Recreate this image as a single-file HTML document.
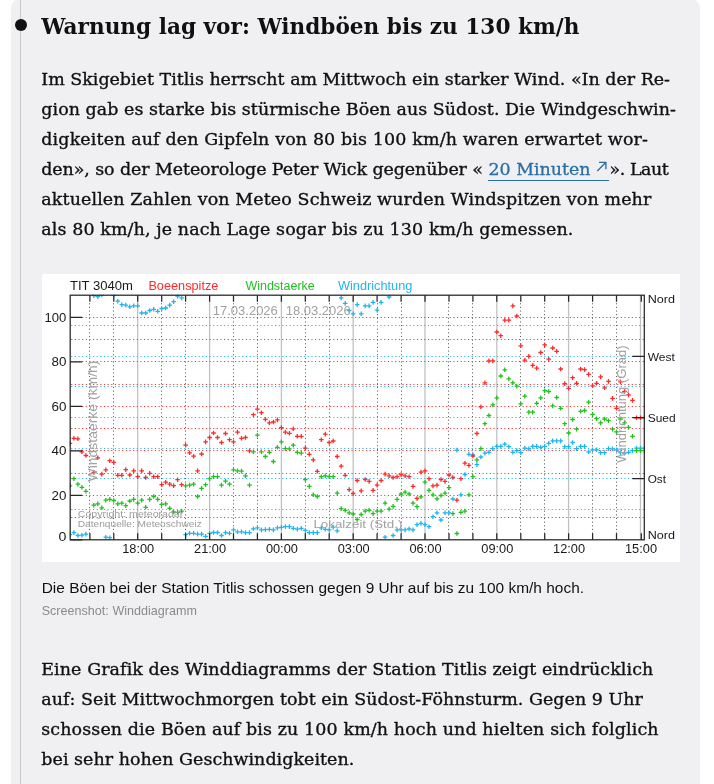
<!DOCTYPE html>
<html lang="de"><head><meta charset="utf-8"><title>Warnung lag vor: Windböen bis zu 130 km/h</title>
<style>
html,body{margin:0;padding:0;background:#fff}
body{width:714px;height:784px;position:relative;overflow:hidden;font-family:"DejaVu Serif","Liberation Serif",serif;color:#101010}
.card{position:absolute;left:11px;top:-1px;width:689px;height:800px;background:#f0f0f2;border-radius:9px 9px 0 0}
.vline{position:absolute;left:20px;top:0;width:1px;height:800px;background:#c9c9cc}
.dot{position:absolute;left:15px;top:19px;width:12px;height:12px;border-radius:50%;background:#111}
.ln{position:absolute;white-space:nowrap;margin:0;padding:0}
.h{font-size:21.6px;font-weight:bold;line-height:30px}
.p{font-size:17.45px;line-height:30px;height:30px;-webkit-text-stroke:0.35px #101010}
.cap{font-family:"Liberation Sans",sans-serif;font-size:15.45px;line-height:20px}
.cred{font-family:"Liberation Sans",sans-serif;font-size:12.55px;line-height:16px;color:#8a8a8e}
a.lk{color:#2a6ea6;-webkit-text-stroke:0.3px #2a6ea6;text-decoration:none}
.ul{position:absolute;left:488px;top:179.8px;width:120.6px;height:1.2px;background:#2a6ea6}
.ar{position:absolute;left:596.2px;top:161.4px}
</style></head><body>
<div class="card"></div><div class="vline"></div><div class="dot"></div>
<h2 class="ln h" id="h" style="left:41.2px;top:12px;letter-spacing:0.008px">Warnung lag vor: Windböen bis zu 130 km/h</h2>
<p class="ln p" id="l1" style="left:41.3px;top:63.5px;letter-spacing:0.004px">Im Skigebiet Titlis herrscht am Mittwoch ein starker Wind. «In der Re-</p>
<p class="ln p" id="l2" style="left:41.3px;top:93.5px;letter-spacing:0.049px">gion gab es starke bis stürmische Böen aus Südost. Die Windgeschwin-</p>
<p class="ln p" id="l3" style="left:41.3px;top:123.5px;letter-spacing:0.144px">digkeiten auf den Gipfeln von 80 bis 100 km/h waren erwartet wor-</p>
<p class="ln p" id="l4a" style="left:41.3px;top:153.5px;letter-spacing:-0.088px">den», so der Meteorologe Peter Wick gegenüber «</p>
<a class="ln p lk" id="l4b" style="left:488.4px;top:153.5px;letter-spacing:0.001px">20 Minuten</a>
<p class="ln p" id="l4c" style="left:609.6px;top:153.5px;letter-spacing:-0.461px">». Laut</p>
<p class="ln p" id="l5" style="left:41.3px;top:183.5px;letter-spacing:0.128px">aktuellen Zahlen von Meteo Schweiz wurden Windspitzen von mehr</p>
<p class="ln p" id="l6" style="left:41.3px;top:213.5px;letter-spacing:0.111px">als 80 km/h, je nach Lage sogar bis zu 130 km/h gemessen.</p>
<p class="ln cap" id="c1" style="left:41.7px;top:577.5px;letter-spacing:0.011px">Die Böen bei der Station Titlis schossen gegen 9 Uhr auf bis zu 100 km/h hoch.</p>
<p class="ln cred" id="c2" style="left:41.7px;top:602.5px;letter-spacing:0.021px">Screenshot: Winddiagramm</p>
<p class="ln p" id="m1" style="left:41.3px;top:653.9px;letter-spacing:0.092px">Eine Grafik des Winddiagramms der Station Titlis zeigt eindrücklich</p>
<p class="ln p" id="m2" style="left:41.3px;top:683.9px;letter-spacing:0.048px">auf: Seit Mittwochmorgen tobt ein Südost-Föhnsturm. Gegen 9 Uhr</p>
<p class="ln p" id="m3" style="left:41.3px;top:713.9px;letter-spacing:0.123px">schossen die Böen auf bis zu 100 km/h hoch und hielten sich folglich</p>
<p class="ln p" id="m4" style="left:41.3px;top:743.9px;letter-spacing:0.049px">bei sehr hohen Geschwindigkeiten.</p>
<div class="ul"></div>
<svg class="ar" width="11" height="11" viewBox="0 0 11 11"><path d="M3 1.3h6.9v6.9M9.7 1.5L1.3 9.9" stroke="#2a6ea6" stroke-width="1.35" fill="none"/></svg>
<svg width="638" height="288" viewBox="42 274 638 288" style="position:absolute;left:42px;top:274px;display:block" font-family="Liberation Sans, sans-serif">
<rect x="42" y="274" width="638" height="288" fill="#fff"/>
<line x1="89.5" y1="303.2" x2="89.5" y2="533.8" stroke="#606060" stroke-width="1" stroke-dasharray="1.1 2.54"/>
<line x1="113.5" y1="303.2" x2="113.5" y2="533.8" stroke="#606060" stroke-width="1" stroke-dasharray="1.1 2.54"/>
<line x1="137.7" y1="295.2" x2="137.7" y2="539.8" stroke="#c2c2c2" stroke-width="1.3"/>
<line x1="161.5" y1="303.2" x2="161.5" y2="533.8" stroke="#606060" stroke-width="1" stroke-dasharray="1.1 2.54"/>
<line x1="185.5" y1="303.2" x2="185.5" y2="533.8" stroke="#606060" stroke-width="1" stroke-dasharray="1.1 2.54"/>
<line x1="209.6" y1="295.2" x2="209.6" y2="539.8" stroke="#c2c2c2" stroke-width="1.3"/>
<line x1="233.5" y1="303.2" x2="233.5" y2="533.8" stroke="#606060" stroke-width="1" stroke-dasharray="1.1 2.54"/>
<line x1="257.5" y1="303.2" x2="257.5" y2="533.8" stroke="#606060" stroke-width="1" stroke-dasharray="1.1 2.54"/>
<line x1="281.4" y1="295.2" x2="281.4" y2="539.8" stroke="#c2c2c2" stroke-width="1.3"/>
<line x1="305.5" y1="303.2" x2="305.5" y2="533.8" stroke="#606060" stroke-width="1" stroke-dasharray="1.1 2.54"/>
<line x1="329.5" y1="303.2" x2="329.5" y2="533.8" stroke="#606060" stroke-width="1" stroke-dasharray="1.1 2.54"/>
<line x1="353.2" y1="295.2" x2="353.2" y2="539.8" stroke="#c2c2c2" stroke-width="1.3"/>
<line x1="377.5" y1="303.2" x2="377.5" y2="533.8" stroke="#606060" stroke-width="1" stroke-dasharray="1.1 2.54"/>
<line x1="401.5" y1="303.2" x2="401.5" y2="533.8" stroke="#606060" stroke-width="1" stroke-dasharray="1.1 2.54"/>
<line x1="425.0" y1="295.2" x2="425.0" y2="539.8" stroke="#c2c2c2" stroke-width="1.3"/>
<line x1="448.5" y1="303.2" x2="448.5" y2="533.8" stroke="#606060" stroke-width="1" stroke-dasharray="1.1 2.54"/>
<line x1="472.5" y1="303.2" x2="472.5" y2="533.8" stroke="#606060" stroke-width="1" stroke-dasharray="1.1 2.54"/>
<line x1="496.8" y1="295.2" x2="496.8" y2="539.8" stroke="#c2c2c2" stroke-width="1.3"/>
<line x1="520.5" y1="303.2" x2="520.5" y2="533.8" stroke="#606060" stroke-width="1" stroke-dasharray="1.1 2.54"/>
<line x1="544.5" y1="303.2" x2="544.5" y2="533.8" stroke="#606060" stroke-width="1" stroke-dasharray="1.1 2.54"/>
<line x1="568.6" y1="295.2" x2="568.6" y2="539.8" stroke="#c2c2c2" stroke-width="1.3"/>
<line x1="592.5" y1="303.2" x2="592.5" y2="533.8" stroke="#606060" stroke-width="1" stroke-dasharray="1.1 2.54"/>
<line x1="616.5" y1="303.2" x2="616.5" y2="533.8" stroke="#606060" stroke-width="1" stroke-dasharray="1.1 2.54"/>
<line x1="640.5" y1="295.2" x2="640.5" y2="539.8" stroke="#c2c2c2" stroke-width="1.3"/>
<line x1="71.2" y1="509.5" x2="644.3" y2="509.5" stroke="#22b4ee" stroke-width="1.1" stroke-dasharray="1.1 2.54"/>
<line x1="71.2" y1="478.5" x2="644.3" y2="478.5" stroke="#22b4ee" stroke-width="1.1" stroke-dasharray="1.1 2.54"/>
<line x1="71.2" y1="448.5" x2="644.3" y2="448.5" stroke="#22b4ee" stroke-width="1.1" stroke-dasharray="1.1 2.54"/>
<line x1="71.2" y1="417.5" x2="644.3" y2="417.5" stroke="#22b4ee" stroke-width="1.1" stroke-dasharray="1.1 2.54"/>
<line x1="71.2" y1="386.5" x2="644.3" y2="386.5" stroke="#22b4ee" stroke-width="1.1" stroke-dasharray="1.1 2.54"/>
<line x1="71.2" y1="356.5" x2="644.3" y2="356.5" stroke="#22b4ee" stroke-width="1.1" stroke-dasharray="1.1 2.54"/>
<line x1="71.2" y1="325.5" x2="644.3" y2="325.5" stroke="#22b4ee" stroke-width="1.1" stroke-dasharray="1.1 2.54"/>
<line x1="71.2" y1="517.5" x2="644.3" y2="517.5" stroke="#ff2a2a" stroke-width="1.1" stroke-dasharray="1.1 2.54"/>
<line x1="71.2" y1="495.5" x2="644.3" y2="495.5" stroke="#ff2a2a" stroke-width="1.1" stroke-dasharray="1.1 2.54"/>
<line x1="71.2" y1="473.5" x2="644.3" y2="473.5" stroke="#ff2a2a" stroke-width="1.1" stroke-dasharray="1.1 2.54"/>
<line x1="71.2" y1="450.5" x2="644.3" y2="450.5" stroke="#ff2a2a" stroke-width="1.1" stroke-dasharray="1.1 2.54"/>
<line x1="71.2" y1="428.5" x2="644.3" y2="428.5" stroke="#ff2a2a" stroke-width="1.1" stroke-dasharray="1.1 2.54"/>
<line x1="71.2" y1="406.5" x2="644.3" y2="406.5" stroke="#ff2a2a" stroke-width="1.1" stroke-dasharray="1.1 2.54"/>
<line x1="71.2" y1="384.5" x2="644.3" y2="384.5" stroke="#ff2a2a" stroke-width="1.1" stroke-dasharray="1.1 2.54"/>
<line x1="71.2" y1="361.5" x2="644.3" y2="361.5" stroke="#ff2a2a" stroke-width="1.1" stroke-dasharray="1.1 2.54"/>
<line x1="71.2" y1="339.5" x2="644.3" y2="339.5" stroke="#ff2a2a" stroke-width="1.1" stroke-dasharray="1.1 2.54"/>
<line x1="71.2" y1="317.5" x2="644.3" y2="317.5" stroke="#ff2a2a" stroke-width="1.1" stroke-dasharray="1.1 2.54"/>
<clipPath id="pc"><rect x="69.7" y="294.7" width="575.0999999999999" height="245.59999999999997"/></clipPath>
<path clip-path="url(#pc)" d="M67.6 534.6h4.6M69.9 532.3v4.6M71.6 532.6h4.6M73.9 530.3v4.6M75.6 535.5h4.6M77.9 533.2v4.6M79.6 535.2h4.6M81.9 532.9v4.6M83.6 534.1h4.6M85.9 531.8v4.6M91.5 295.7h4.6M93.8 293.4v4.6M95.5 296.7h4.6M97.8 294.4v4.6M99.5 295.0h4.6M101.8 292.7v4.6M103.5 537.2h4.6M105.8 534.9v4.6M107.5 537.7h4.6M109.8 535.4v4.6M111.5 295.0h4.6M113.8 292.7v4.6M115.5 301.2h4.6M117.8 298.9v4.6M119.5 304.6h4.6M121.8 302.3v4.6M123.5 305.1h4.6M125.8 302.8v4.6M127.5 306.8h4.6M129.8 304.5v4.6M131.4 305.8h4.6M133.7 303.5v4.6M135.4 305.8h4.6M137.7 303.5v4.6M139.4 313.0h4.6M141.7 310.7v4.6M143.4 313.0h4.6M145.7 310.7v4.6M147.4 310.5h4.6M149.7 308.2v4.6M151.4 309.3h4.6M153.7 307.0v4.6M155.4 311.3h4.6M157.7 309.0v4.6M159.4 308.5h4.6M161.7 306.2v4.6M163.4 308.0h4.6M165.7 305.7v4.6M167.4 305.1h4.6M169.7 302.8v4.6M171.3 301.7h4.6M173.6 299.4v4.6M175.3 296.2h4.6M177.6 293.9v4.6M179.3 297.9h4.6M181.6 295.6v4.6M183.3 534.6h4.6M185.6 532.3v4.6M187.3 533.3h4.6M189.6 531.0v4.6M191.3 533.3h4.6M193.6 531.0v4.6M195.3 534.1h4.6M197.6 531.8v4.6M199.3 534.1h4.6M201.6 531.8v4.6M203.3 536.3h4.6M205.6 534.0v4.6M207.3 533.3h4.6M209.6 531.0v4.6M211.2 532.5h4.6M213.5 530.2v4.6M215.2 532.5h4.6M217.5 530.2v4.6M219.2 535.5h4.6M221.5 533.2v4.6M223.2 532.6h4.6M225.5 530.3v4.6M227.2 533.3h4.6M229.5 531.0v4.6M231.2 529.9h4.6M233.5 527.6v4.6M235.2 531.8h4.6M237.5 529.5v4.6M239.2 531.8h4.6M241.5 529.5v4.6M243.2 532.6h4.6M245.5 530.3v4.6M247.2 532.6h4.6M249.5 530.3v4.6M251.1 528.8h4.6M253.4 526.5v4.6M255.1 527.9h4.6M257.4 525.6v4.6M259.1 529.9h4.6M261.4 527.6v4.6M263.1 529.6h4.6M265.4 527.3v4.6M267.1 529.3h4.6M269.4 527.0v4.6M271.1 529.9h4.6M273.4 527.6v4.6M275.1 527.9h4.6M277.4 525.6v4.6M279.1 527.4h4.6M281.4 525.1v4.6M283.1 526.6h4.6M285.4 524.3v4.6M287.1 526.6h4.6M289.4 524.3v4.6M291.0 528.3h4.6M293.3 526.0v4.6M295.0 529.1h4.6M297.3 526.8v4.6M299.0 528.3h4.6M301.3 526.0v4.6M303.0 530.4h4.6M305.3 528.1v4.6M307.0 532.6h4.6M309.3 530.3v4.6M311.0 532.6h4.6M313.3 530.3v4.6M315.0 532.6h4.6M317.3 530.3v4.6M319.0 527.9h4.6M321.3 525.6v4.6M323.0 529.3h4.6M325.3 527.0v4.6M326.9 529.9h4.6M329.2 527.6v4.6M330.9 527.1h4.6M333.2 524.8v4.6M334.9 530.9h4.6M337.2 528.6v4.6M338.9 297.9h4.6M341.2 295.6v4.6M342.9 303.4h4.6M345.2 301.1v4.6M346.9 310.5h4.6M349.2 308.2v4.6M350.9 313.8h4.6M353.2 311.5v4.6M354.9 304.6h4.6M357.2 302.3v4.6M358.9 313.8h4.6M361.2 311.5v4.6M362.9 305.9h4.6M365.2 303.6v4.6M366.8 305.9h4.6M369.1 303.6v4.6M370.8 302.4h4.6M373.1 300.1v4.6M374.8 310.2h4.6M377.1 307.9v4.6M378.8 302.4h4.6M381.1 300.1v4.6M382.8 537.2h4.6M385.1 534.9v4.6M386.8 297.0h4.6M389.1 294.7v4.6M390.8 535.5h4.6M393.1 533.2v4.6M394.8 529.9h4.6M397.1 527.6v4.6M398.8 529.9h4.6M401.1 527.6v4.6M402.8 529.9h4.6M405.1 527.6v4.6M406.8 528.8h4.6M409.1 526.5v4.6M410.7 529.9h4.6M413.0 527.6v4.6M414.7 524.6h4.6M417.0 522.3v4.6M418.7 523.4h4.6M421.0 521.1v4.6M422.7 524.6h4.6M425.0 522.3v4.6M426.7 526.7h4.6M429.0 524.4v4.6M430.7 516.7h4.6M433.0 514.4v4.6M434.7 512.8h4.6M437.0 510.5v4.6M438.7 520.0h4.6M441.0 517.7v4.6M442.7 512.8h4.6M445.0 510.5v4.6M446.7 512.8h4.6M449.0 510.5v4.6M450.6 499.0h4.6M452.9 496.7v4.6M454.6 450.1h4.6M456.9 447.8v4.6M458.6 494.8h4.6M460.9 492.5v4.6M462.6 474.5h4.6M464.9 472.2v4.6M466.6 454.3h4.6M468.9 452.0v4.6M470.6 454.8h4.6M472.9 452.5v4.6M474.6 464.6h4.6M476.9 462.3v4.6M478.6 457.0h4.6M480.9 454.7v4.6M482.6 453.1h4.6M484.9 450.8v4.6M486.6 452.3h4.6M488.9 450.0v4.6M490.5 448.6h4.6M492.8 446.3v4.6M494.5 446.4h4.6M496.8 444.1v4.6M498.5 446.4h4.6M500.8 444.1v4.6M502.5 444.2h4.6M504.8 441.9v4.6M506.5 446.7h4.6M508.8 444.4v4.6M510.5 452.3h4.6M512.8 450.0v4.6M514.5 450.6h4.6M516.8 448.3v4.6M518.5 452.6h4.6M520.8 450.3v4.6M522.5 448.1h4.6M524.8 445.8v4.6M526.5 448.9h4.6M528.8 446.6v4.6M530.4 446.4h4.6M532.7 444.1v4.6M534.4 446.4h4.6M536.7 444.1v4.6M538.4 447.3h4.6M540.7 445.0v4.6M542.4 446.4h4.6M544.7 444.1v4.6M546.4 443.4h4.6M548.7 441.1v4.6M550.4 440.9h4.6M552.7 438.6v4.6M554.4 440.9h4.6M556.7 438.6v4.6M558.4 440.9h4.6M560.7 438.6v4.6M562.4 446.7h4.6M564.7 444.4v4.6M566.3 446.7h4.6M568.6 444.4v4.6M570.3 442.5h4.6M572.6 440.2v4.6M574.3 448.6h4.6M576.6 446.3v4.6M578.3 446.4h4.6M580.6 444.1v4.6M582.3 446.4h4.6M584.6 444.1v4.6M586.3 451.8h4.6M588.6 449.5v4.6M590.3 449.8h4.6M592.6 447.5v4.6M594.3 449.8h4.6M596.6 447.5v4.6M598.3 452.6h4.6M600.6 450.3v4.6M602.3 452.6h4.6M604.6 450.3v4.6M606.2 448.6h4.6M608.5 446.3v4.6M610.2 448.9h4.6M612.5 446.6v4.6M614.2 449.8h4.6M616.5 447.5v4.6M618.2 452.6h4.6M620.5 450.3v4.6M622.2 453.1h4.6M624.5 450.8v4.6M626.2 452.3h4.6M628.5 450.0v4.6M630.2 450.6h4.6M632.5 448.3v4.6M634.2 448.1h4.6M636.5 445.8v4.6M638.2 448.1h4.6M640.5 445.8v4.6M642.2 448.1h4.6M644.5 445.8v4.6" stroke="#22b4ee" stroke-width="1.3" fill="none"/>
<path clip-path="url(#pc)" d="M67.6 485.9h4.6M69.9 483.6v4.6M71.6 478.7h4.6M73.9 476.4v4.6M75.6 484.2h4.6M77.9 481.9v4.6M79.6 487.3h4.6M81.9 485.0v4.6M83.6 491.3h4.6M85.9 489.0v4.6M91.5 505.2h4.6M93.8 502.9v4.6M95.5 503.9h4.6M97.8 501.6v4.6M99.5 507.8h4.6M101.8 505.5v4.6M103.5 500.2h4.6M105.8 497.9v4.6M107.5 499.4h4.6M109.8 497.1v4.6M111.5 500.5h4.6M113.8 498.2v4.6M115.5 503.9h4.6M117.8 501.6v4.6M119.5 503.2h4.6M121.8 500.9v4.6M123.5 505.6h4.6M125.8 503.3v4.6M127.5 501.0h4.6M129.8 498.7v4.6M131.4 499.4h4.6M133.7 497.1v4.6M135.4 503.2h4.6M137.7 500.9v4.6M139.4 500.2h4.6M141.7 497.9v4.6M143.4 507.3h4.6M145.7 505.0v4.6M147.4 499.4h4.6M149.7 497.1v4.6M151.4 496.5h4.6M153.7 494.2v4.6M155.4 499.4h4.6M157.7 497.1v4.6M159.4 504.4h4.6M161.7 502.1v4.6M163.4 503.9h4.6M165.7 501.6v4.6M167.4 508.3h4.6M169.7 506.0v4.6M171.3 512.0h4.6M173.6 509.7v4.6M175.3 512.3h4.6M177.6 510.0v4.6M179.3 511.1h4.6M181.6 508.8v4.6M183.3 485.9h4.6M185.6 483.6v4.6M187.3 485.1h4.6M189.6 482.8v4.6M191.3 484.2h4.6M193.6 481.9v4.6M195.3 496.5h4.6M197.6 494.2v4.6M199.3 488.4h4.6M201.6 486.1v4.6M203.3 484.7h4.6M205.6 482.4v4.6M207.3 478.7h4.6M209.6 476.4v4.6M211.2 476.7h4.6M213.5 474.4v4.6M215.2 476.7h4.6M217.5 474.4v4.6M219.2 485.1h4.6M221.5 482.8v4.6M223.2 481.2h4.6M225.5 478.9v4.6M227.2 484.2h4.6M229.5 481.9v4.6M231.2 469.9h4.6M233.5 467.6v4.6M235.2 470.8h4.6M237.5 468.5v4.6M239.2 471.1h4.6M241.5 468.8v4.6M243.2 475.8h4.6M245.5 473.5v4.6M247.2 485.1h4.6M249.5 482.8v4.6M251.1 451.8h4.6M253.4 449.5v4.6M255.1 435.2h4.6M257.4 432.9v4.6M259.1 451.8h4.6M261.4 449.5v4.6M263.1 456.5h4.6M265.4 454.2v4.6M267.1 452.3h4.6M269.4 450.0v4.6M271.1 461.5h4.6M273.4 459.2v4.6M275.1 447.3h4.6M277.4 445.0v4.6M279.1 441.9h4.6M281.4 439.6v4.6M283.1 448.6h4.6M285.4 446.3v4.6M287.1 448.9h4.6M289.4 446.6v4.6M291.0 445.2h4.6M293.3 442.9v4.6M295.0 452.3h4.6M297.3 450.0v4.6M299.0 453.1h4.6M301.3 450.8v4.6M303.0 479.5h4.6M305.3 477.2v4.6M307.0 486.4h4.6M309.3 484.1v4.6M311.0 494.8h4.6M313.3 492.5v4.6M315.0 496.5h4.6M317.3 494.2v4.6M319.0 476.7h4.6M321.3 474.4v4.6M323.0 475.8h4.6M325.3 473.5v4.6M326.9 476.7h4.6M329.2 474.4v4.6M330.9 476.7h4.6M333.2 474.4v4.6M334.9 493.1h4.6M337.2 490.8v4.6M338.9 508.6h4.6M341.2 506.3v4.6M342.9 510.3h4.6M345.2 508.0v4.6M346.9 512.8h4.6M349.2 510.5v4.6M350.9 514.0h4.6M353.2 511.7v4.6M354.9 519.5h4.6M357.2 517.2v4.6M358.9 514.5h4.6M361.2 512.2v4.6M362.9 511.1h4.6M365.2 508.8v4.6M366.8 510.3h4.6M369.1 508.0v4.6M370.8 513.6h4.6M373.1 511.3v4.6M374.8 511.1h4.6M377.1 508.8v4.6M378.8 511.1h4.6M381.1 508.8v4.6M382.8 503.1h4.6M385.1 500.8v4.6M386.8 509.1h4.6M389.1 506.8v4.6M390.8 506.4h4.6M393.1 504.1v4.6M394.8 499.4h4.6M397.1 497.1v4.6M398.8 494.0h4.6M401.1 491.7v4.6M402.8 492.1h4.6M405.1 489.8v4.6M406.8 494.0h4.6M409.1 491.7v4.6M410.7 503.1h4.6M413.0 500.8v4.6M414.7 506.6h4.6M417.0 504.3v4.6M418.7 496.8h4.6M421.0 494.5v4.6M422.7 482.2h4.6M425.0 479.9v4.6M426.7 490.4h4.6M429.0 488.1v4.6M430.7 494.8h4.6M433.0 492.5v4.6M434.7 498.8h4.6M437.0 496.5v4.6M438.7 495.5h4.6M441.0 493.2v4.6M442.7 493.1h4.6M445.0 490.8v4.6M446.7 487.6h4.6M449.0 485.3v4.6M450.6 513.6h4.6M452.9 511.3v4.6M454.6 533.5h4.6M456.9 531.2v4.6M458.6 512.3h4.6M460.9 510.0v4.6M462.6 511.1h4.6M464.9 508.8v4.6M466.6 494.8h4.6M468.9 492.5v4.6M470.6 476.7h4.6M472.9 474.4v4.6M474.6 459.9h4.6M476.9 457.6v4.6M478.6 448.6h4.6M480.9 446.3v4.6M482.6 423.7h4.6M484.9 421.4v4.6M486.6 415.5h4.6M488.9 413.2v4.6M490.5 404.9h4.6M492.8 402.6v4.6M494.5 397.9h4.6M496.8 395.6v4.6M498.5 376.0h4.6M500.8 373.7v4.6M502.5 369.8h4.6M504.8 367.5v4.6M506.5 378.9h4.6M508.8 376.6v4.6M510.5 382.8h4.6M512.8 380.5v4.6M514.5 386.1h4.6M516.8 383.8v4.6M518.5 403.8h4.6M520.8 401.5v4.6M522.5 396.2h4.6M524.8 393.9v4.6M526.5 412.2h4.6M528.8 409.9v4.6M530.4 412.2h4.6M532.7 409.9v4.6M534.4 403.3h4.6M536.7 401.0v4.6M538.4 397.9h4.6M540.7 395.6v4.6M542.4 390.7h4.6M544.7 388.4v4.6M546.4 391.5h4.6M548.7 389.2v4.6M550.4 405.9h4.6M552.7 403.6v4.6M554.4 397.5h4.6M556.7 395.2v4.6M558.4 408.3h4.6M560.7 406.0v4.6M562.4 423.7h4.6M564.7 421.4v4.6M566.3 433.0h4.6M568.6 430.7v4.6M570.3 419.5h4.6M572.6 417.2v4.6M574.3 429.1h4.6M576.6 426.8v4.6M578.3 411.3h4.6M580.6 409.0v4.6M582.3 410.5h4.6M584.6 408.2v4.6M586.3 402.1h4.6M588.6 399.8v4.6M590.3 414.4h4.6M592.6 412.1v4.6M594.3 418.7h4.6M596.6 416.4v4.6M598.3 422.9h4.6M600.6 420.6v4.6M602.3 419.0h4.6M604.6 416.7v4.6M606.2 420.7h4.6M608.5 418.4v4.6M610.2 429.1h4.6M612.5 426.8v4.6M614.2 431.8h4.6M616.5 429.5v4.6M618.2 419.0h4.6M620.5 416.7v4.6M622.2 422.9h4.6M624.5 420.6v4.6M626.2 427.4h4.6M628.5 425.1v4.6M630.2 436.3h4.6M632.5 434.0v4.6M634.2 450.6h4.6M636.5 448.3v4.6M638.2 450.6h4.6M640.5 448.3v4.6M642.2 450.6h4.6M644.5 448.3v4.6" stroke="#22c022" stroke-width="1.3" fill="none"/>
<path clip-path="url(#pc)" d="M67.6 443.4h4.6M69.9 441.1v4.6M71.6 438.3h4.6M73.9 436.0v4.6M75.6 438.8h4.6M77.9 436.5v4.6M79.6 451.8h4.6M81.9 449.5v4.6M83.6 455.5h4.6M85.9 453.2v4.6M91.5 472.5h4.6M93.8 470.2v4.6M95.5 457.8h4.6M97.8 455.5v4.6M99.5 474.1h4.6M101.8 471.8v4.6M103.5 469.9h4.6M105.8 467.6v4.6M107.5 460.7h4.6M109.8 458.4v4.6M111.5 462.4h4.6M113.8 460.1v4.6M115.5 475.3h4.6M117.8 473.0v4.6M119.5 475.3h4.6M121.8 473.0v4.6M123.5 469.6h4.6M125.8 467.3v4.6M127.5 475.0h4.6M129.8 472.7v4.6M131.4 470.8h4.6M133.7 468.5v4.6M135.4 476.7h4.6M137.7 474.4v4.6M139.4 470.8h4.6M141.7 468.5v4.6M143.4 477.5h4.6M145.7 475.2v4.6M147.4 473.3h4.6M149.7 471.0v4.6M151.4 476.7h4.6M153.7 474.4v4.6M155.4 476.7h4.6M157.7 474.4v4.6M159.4 484.7h4.6M161.7 482.4v4.6M163.4 482.2h4.6M165.7 479.9v4.6M167.4 484.2h4.6M169.7 481.9v4.6M171.3 485.6h4.6M173.6 483.3v4.6M175.3 479.7h4.6M177.6 477.4v4.6M179.3 484.7h4.6M181.6 482.4v4.6M183.3 445.1h4.6M185.6 442.8v4.6M187.3 452.8h4.6M189.6 450.5v4.6M191.3 456.2h4.6M193.6 453.9v4.6M195.3 470.8h4.6M197.6 468.5v4.6M199.3 454.0h4.6M201.6 451.7v4.6M203.3 441.9h4.6M205.6 439.6v4.6M207.3 437.5h4.6M209.6 435.2v4.6M211.2 433.0h4.6M213.5 430.7v4.6M215.2 437.5h4.6M217.5 435.2v4.6M219.2 442.5h4.6M221.5 440.2v4.6M223.2 433.5h4.6M225.5 431.2v4.6M227.2 439.7h4.6M229.5 437.4v4.6M231.2 441.9h4.6M233.5 439.6v4.6M235.2 432.1h4.6M237.5 429.8v4.6M239.2 438.3h4.6M241.5 436.0v4.6M243.2 437.5h4.6M245.5 435.2v4.6M247.2 450.9h4.6M249.5 448.6v4.6M251.1 414.7h4.6M253.4 412.4v4.6M255.1 409.1h4.6M257.4 406.8v4.6M259.1 412.7h4.6M261.4 410.4v4.6M263.1 419.4h4.6M265.4 417.1v4.6M267.1 422.9h4.6M269.4 420.6v4.6M271.1 422.0h4.6M273.4 419.7v4.6M275.1 419.9h4.6M277.4 417.6v4.6M279.1 427.6h4.6M281.4 425.3v4.6M283.1 432.1h4.6M285.4 429.8v4.6M287.1 433.3h4.6M289.4 431.0v4.6M291.0 428.8h4.6M293.3 426.5v4.6M295.0 436.3h4.6M297.3 434.0v4.6M299.0 436.3h4.6M301.3 434.0v4.6M303.0 448.1h4.6M305.3 445.8v4.6M307.0 454.3h4.6M309.3 452.0v4.6M311.0 459.9h4.6M313.3 457.6v4.6M315.0 471.3h4.6M317.3 469.0v4.6M319.0 439.7h4.6M321.3 437.4v4.6M323.0 434.1h4.6M325.3 431.8v4.6M326.9 442.5h4.6M329.2 440.2v4.6M330.9 441.0h4.6M333.2 438.7v4.6M334.9 456.5h4.6M337.2 454.2v4.6M338.9 466.2h4.6M341.2 463.9v4.6M342.9 475.3h4.6M345.2 473.0v4.6M346.9 489.6h4.6M349.2 487.3v4.6M350.9 493.5h4.6M353.2 491.2v4.6M354.9 480.5h4.6M357.2 478.2v4.6M358.9 490.9h4.6M361.2 488.6v4.6M362.9 479.5h4.6M365.2 477.2v4.6M366.8 481.4h4.6M369.1 479.1v4.6M370.8 490.4h4.6M373.1 488.1v4.6M374.8 485.1h4.6M377.1 482.8v4.6M378.8 480.5h4.6M381.1 478.2v4.6M382.8 474.1h4.6M385.1 471.8v4.6M386.8 475.8h4.6M389.1 473.5v4.6M390.8 477.5h4.6M393.1 475.2v4.6M394.8 476.7h4.6M397.1 474.4v4.6M398.8 474.6h4.6M401.1 472.3v4.6M402.8 475.8h4.6M405.1 473.5v4.6M406.8 476.7h4.6M409.1 474.4v4.6M410.7 486.4h4.6M413.0 484.1v4.6M414.7 498.5h4.6M417.0 496.2v4.6M418.7 472.1h4.6M421.0 469.8v4.6M422.7 470.8h4.6M425.0 468.5v4.6M426.7 478.7h4.6M429.0 476.4v4.6M430.7 485.9h4.6M433.0 483.6v4.6M434.7 485.1h4.6M437.0 482.8v4.6M438.7 479.5h4.6M441.0 477.2v4.6M442.7 481.4h4.6M445.0 479.1v4.6M446.7 475.0h4.6M449.0 472.7v4.6M450.6 477.5h4.6M452.9 475.2v4.6M454.6 500.2h4.6M456.9 497.9v4.6M458.6 478.7h4.6M460.9 476.4v4.6M462.6 463.2h4.6M464.9 460.9v4.6M466.6 465.4h4.6M468.9 463.1v4.6M470.6 456.0h4.6M472.9 453.7v4.6M474.6 433.5h4.6M476.9 431.2v4.6M478.6 406.8h4.6M480.9 404.5v4.6M482.6 382.8h4.6M484.9 380.5v4.6M486.6 360.9h4.6M488.9 358.6v4.6M490.5 360.9h4.6M492.8 358.6v4.6M494.5 332.0h4.6M496.8 329.7v4.6M498.5 335.7h4.6M500.8 333.4v4.6M502.5 320.1h4.6M504.8 317.8v4.6M506.5 320.1h4.6M508.8 317.8v4.6M510.5 305.9h4.6M512.8 303.6v4.6M514.5 316.0h4.6M516.8 313.7v4.6M518.5 345.8h4.6M520.8 343.5v4.6M522.5 360.1h4.6M524.8 357.8v4.6M526.5 356.4h4.6M528.8 354.1v4.6M530.4 365.4h4.6M532.7 363.1v4.6M534.4 368.1h4.6M536.7 365.8v4.6M538.4 352.5h4.6M540.7 350.2v4.6M542.4 344.9h4.6M544.7 342.6v4.6M546.4 359.2h4.6M548.7 356.9v4.6M550.4 348.0h4.6M552.7 345.7v4.6M554.4 351.3h4.6M556.7 349.0v4.6M558.4 369.0h4.6M560.7 366.7v4.6M562.4 383.6h4.6M564.7 381.3v4.6M566.3 388.3h4.6M568.6 386.0v4.6M570.3 377.7h4.6M572.6 375.4v4.6M574.3 383.3h4.6M576.6 381.0v4.6M578.3 369.0h4.6M580.6 366.7v4.6M582.3 369.6h4.6M584.6 367.3v4.6M586.3 374.4h4.6M588.6 372.1v4.6M590.3 385.8h4.6M592.6 383.5v4.6M594.3 383.3h4.6M596.6 381.0v4.6M598.3 376.9h4.6M600.6 374.6v4.6M602.3 387.8h4.6M604.6 385.5v4.6M606.2 381.4h4.6M608.5 379.1v4.6M610.2 398.4h4.6M612.5 396.1v4.6M614.2 408.3h4.6M616.5 406.0v4.6M618.2 381.9h4.6M620.5 379.6v4.6M622.2 391.5h4.6M624.5 389.2v4.6M626.2 394.9h4.6M628.5 392.6v4.6M630.2 400.4h4.6M632.5 398.1v4.6M634.2 417.8h4.6M636.5 415.5v4.6M638.2 417.8h4.6M640.5 415.5v4.6M642.2 417.8h4.6M644.5 415.5v4.6" stroke="#ff2a2a" stroke-width="1.3" fill="none"/>
<g fill="#a2a2a2">
<text x="212.8" y="315" font-size="12.5px" textLength="65" lengthAdjust="spacingAndGlyphs">17.03.2026</text>
<text x="285.7" y="315" font-size="12.5px" textLength="65" lengthAdjust="spacingAndGlyphs">18.03.2026</text>
<text x="313.4" y="527.5" font-size="11.5px" textLength="89" lengthAdjust="spacingAndGlyphs">Lokalzeit (Std.)</text>
<text transform="translate(96.7 481.5) rotate(-90)" font-size="13.6px" textLength="121" lengthAdjust="spacingAndGlyphs">Windstaerke (km/h)</text>
<text transform="translate(626.2 462.8) rotate(-90)" font-size="13.6px" textLength="117.5" lengthAdjust="spacingAndGlyphs">Windrichtung (Grad)</text>
</g>
<g fill="#9c9c9c" font-size="9px">
<text x="77.8" y="517" textLength="105.5" lengthAdjust="spacingAndGlyphs">Copyright: meteoradar</text>
<text x="77.8" y="527.3" textLength="124" lengthAdjust="spacingAndGlyphs">Datenquelle: Meteoschweiz</text>
</g>
<rect x="70.2" y="295.2" width="574.0999999999999" height="244.59999999999997" fill="none" stroke="#262626" stroke-width="1.25"/>
<path d="M89.9 295.2v6.5M89.9 539.8v-6.5M113.8 295.2v6.5M113.8 539.8v-6.5M137.7 295.2v6.5M137.7 539.8v-6.5M161.7 295.2v6.5M161.7 539.8v-6.5M185.6 295.2v6.5M185.6 539.8v-6.5M209.6 295.2v6.5M209.6 539.8v-6.5M233.5 295.2v6.5M233.5 539.8v-6.5M257.4 295.2v6.5M257.4 539.8v-6.5M281.4 295.2v6.5M281.4 539.8v-6.5M305.3 295.2v6.5M305.3 539.8v-6.5M329.2 295.2v6.5M329.2 539.8v-6.5M353.2 295.2v6.5M353.2 539.8v-6.5M377.1 295.2v6.5M377.1 539.8v-6.5M401.1 295.2v6.5M401.1 539.8v-6.5M425.0 295.2v6.5M425.0 539.8v-6.5M449.0 295.2v6.5M449.0 539.8v-6.5M472.9 295.2v6.5M472.9 539.8v-6.5M496.8 295.2v6.5M496.8 539.8v-6.5M520.8 295.2v6.5M520.8 539.8v-6.5M544.7 295.2v6.5M544.7 539.8v-6.5M568.6 295.2v6.5M568.6 539.8v-6.5M592.6 295.2v6.5M592.6 539.8v-6.5M616.5 295.2v6.5M616.5 539.8v-6.5M641.3 295.2v6.5M641.3 539.8v-6.5" stroke="#262626" stroke-width="1.25" fill="none"/>
<path d="M70.2 539.8h12M70.2 495.3h12M70.2 450.9h12M70.2 406.4h12M70.2 361.9h12M70.2 317.4h12M644.3 478.6h-12M644.3 417.5h-12M644.3 356.4h-12" stroke="#262626" stroke-width="1.25" fill="none"/>
<g fill="#1a1a1a" font-size="11.7px">
<text x="58.5" y="541.3" font-size="12.5px" textLength="7.9" lengthAdjust="spacingAndGlyphs">0</text>
<text x="51.5" y="499.8" font-size="12.5px" textLength="14.9" lengthAdjust="spacingAndGlyphs">20</text>
<text x="51.5" y="455.4" font-size="12.5px" textLength="14.9" lengthAdjust="spacingAndGlyphs">40</text>
<text x="51.5" y="410.9" font-size="12.5px" textLength="14.9" lengthAdjust="spacingAndGlyphs">60</text>
<text x="51.5" y="366.4" font-size="12.5px" textLength="14.9" lengthAdjust="spacingAndGlyphs">80</text>
<text x="44.6" y="321.9" font-size="12.5px" textLength="21.799999999999997" lengthAdjust="spacingAndGlyphs">100</text>
<text x="647.7" y="539.2" textLength="27.3" lengthAdjust="spacingAndGlyphs">Nord</text>
<text x="647.7" y="483.2" textLength="18.3" lengthAdjust="spacingAndGlyphs">Ost</text>
<text x="647.7" y="422.1" textLength="28" lengthAdjust="spacingAndGlyphs">Sued</text>
<text x="647.7" y="361.0" textLength="27.1" lengthAdjust="spacingAndGlyphs">West</text>
<text x="647.7" y="302.8" textLength="27.3" lengthAdjust="spacingAndGlyphs">Nord</text>
<text x="122.2" y="553" font-size="12.5px" textLength="32" lengthAdjust="spacingAndGlyphs">18:00</text>
<text x="194.1" y="553" font-size="12.5px" textLength="32" lengthAdjust="spacingAndGlyphs">21:00</text>
<text x="265.9" y="553" font-size="12.5px" textLength="32" lengthAdjust="spacingAndGlyphs">00:00</text>
<text x="337.7" y="553" font-size="12.5px" textLength="32" lengthAdjust="spacingAndGlyphs">03:00</text>
<text x="409.5" y="553" font-size="12.5px" textLength="32" lengthAdjust="spacingAndGlyphs">06:00</text>
<text x="481.3" y="553" font-size="12.5px" textLength="32" lengthAdjust="spacingAndGlyphs">09:00</text>
<text x="553.1" y="553" font-size="12.5px" textLength="32" lengthAdjust="spacingAndGlyphs">12:00</text>
<text x="625.0" y="553" font-size="12.5px" textLength="32" lengthAdjust="spacingAndGlyphs">15:00</text>
<text x="70" y="290" font-size="12.5px" textLength="63" lengthAdjust="spacingAndGlyphs">TIT 3040m</text>
<text x="148.4" y="290" font-size="12.5px" fill="#ff2a2a" textLength="70" lengthAdjust="spacingAndGlyphs">Boeenspitze</text>
<text x="245.4" y="290" font-size="12.5px" fill="#22c022" textLength="69.4" lengthAdjust="spacingAndGlyphs">Windstaerke</text>
<text x="338" y="290" font-size="12.5px" fill="#22b4ee" textLength="74.3" lengthAdjust="spacingAndGlyphs">Windrichtung</text>
</g>
</svg>
</body></html>
